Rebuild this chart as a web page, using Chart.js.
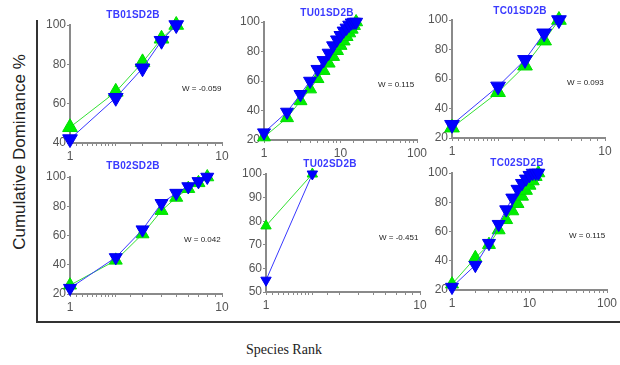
<!DOCTYPE html>
<html>
<head>
<meta charset="utf-8">
<script src="https://cdn.jsdelivr.net/npm/chart.js@4.4.1/dist/chart.umd.min.js"></script>
<style>
  body { margin: 0; background: #fff; width: 620px; height: 365px; overflow: hidden; position: relative; font-family: "Liberation Sans", Arial, sans-serif; }
  canvas { position: absolute; }
  .frame-l { position: absolute; left: 36px; top: 20px; width: 2px; height: 303px; background: #333; }
  .frame-b { position: absolute; left: 36px; top: 321px; width: 584px; height: 2px; background: #333; }
  .ttl { position: absolute; color: #3a3aff; font-weight: bold; font-size: 10px; letter-spacing: 0.3px; transform: translate(-50%, -50%); white-space: nowrap; }
  .w { position: absolute; font-size: 8px; color: #222; transform: translateY(-50%); white-space: nowrap; }
  #ytitle { position: absolute; left: 20px; top: 152px; font-size: 17px; color: #222; transform: translate(-50%, -50%) rotate(-90deg); white-space: nowrap; }
  #xtitle { position: absolute; left: 284px; top: 350px; font-family: "Liberation Serif", "Times New Roman", serif; font-size: 14px; color: #222; transform: translate(-50%, -50%); white-space: nowrap; }
</style>
</head>
<body>
<div class="frame-l"></div>
<div class="frame-b"></div>
<div id="ytitle">Cumulative Dominance %</div>
<div id="xtitle">Species Rank</div>
<script>
// panel names and W statistic
const panelNames = ['TB01SD2B', 'TU01SD2B', 'TC01SD2B', 'TB02SD2B', 'TU02SD2B', 'TC02SD2B'];
const wLabels = ['W = -0.059', 'W = 0.115', 'W = 0.093', 'W = 0.042', 'W = -0.451', 'W = 0.115'];

// species ranks
const ranksTB01 = [1, 2, 3, 4, 5];
const ranksTU01 = [1, 2, 3, 4, 5, 6, 7, 8, 9, 10, 11, 12, 13, 14, 15, 16];
const ranksTC01 = [1, 2, 3, 4, 5];
const ranksTB02 = [1, 2, 3, 4, 5, 6, 7, 8];
const ranksTU02 = [1, 2];
const ranksTC02 = [1, 2, 3, 4, 5, 6, 7, 8, 9, 10, 11, 12, 13];

// cumulative dominance %, green (up triangles)
const greenTB01 = [48, 66, 81, 93, 100];
const greenTU01 = [22, 35, 46.5, 54.5, 61.5, 67, 72, 76.5, 80.5, 84, 87, 90, 92.5, 95, 97.5, 100];
const greenTC01 = [27, 51, 69, 86, 100];
const greenTB02 = [26, 43, 61, 77, 86, 92, 96, 100];
const greenTU02 = [78, 100];
const greenTC02 = [24, 42, 51, 61, 68, 74, 79, 84, 88, 91.5, 94.5, 97.5, 100];

// cumulative dominance %, blue (down triangles)
const blueTB01 = [42, 63, 78, 92, 100];
const blueTU01 = [25, 39, 51, 60, 68, 74, 79, 84, 88, 91, 94, 96, 98, 99.5, 100, 100];
const blueTC01 = [29, 55, 73, 91, 100];
const blueTB02 = [24, 45, 64, 82, 89, 93.5, 97, 100];
const blueTU02 = [55, 100];
const blueTC02 = [22, 37, 52, 65, 75, 83, 89, 93, 96, 98.5, 100, 100, 100];

// axis ranges
const yMins = [40, 20, 20, 20, 50, 20];
const yMaxs = [100, 100, 100, 100, 100, 100];
const ySteps = [20, 20, 20, 20, 10, 20];
const xMaxs = [10, 100, 10, 10, 10, 100];

const ranks = [ranksTB01, ranksTU01, ranksTC01, ranksTB02, ranksTU02, ranksTC02];
const greens = [greenTB01, greenTU01, greenTC01, greenTB02, greenTU02, greenTC02];
const blues = [blueTB01, blueTU01, blueTC01, blueTB02, blueTU02, blueTC02];

// plot area of each panel on the page
const boxes = [
  { l: 70, t: 25, r: 222, b: 143 },
  { l: 264, t: 22, r: 417, b: 140 },
  { l: 452, t: 20, r: 605, b: 138 },
  { l: 70, t: 177, r: 222, b: 294 },
  { l: 266, t: 174, r: 420, b: 292 },
  { l: 452, t: 173, r: 607, b: 290 }
];
const markerSize = [8.5, 7.5, 8.5, 7.5, 6, 7.5];
const titlePos = [[133, 14], [327, 12], [520, 10], [133, 165], [330, 163], [517, 162]];
const wPos = [[182, 88], [378, 84], [567, 82], [184, 239], [379, 237], [569, 235]];

const PADL = 45, PADT = 12, PADR = 14, PADB = 22;

function pts(xs, ys) {
  return xs.map((x, i) => ({ x: x, y: ys[i] }));
}

panelNames.forEach((name, i) => {
  const b = boxes[i];
  const cv = document.createElement('canvas');
  const w = b.r - b.l + PADL + PADR, h = b.b - b.t + PADT + PADB;
  cv.width = w; cv.height = h;
  cv.style.left = (b.l - PADL) + 'px';
  cv.style.top = (b.t - PADT) + 'px';
  cv.style.width = w + 'px';
  cv.style.height = h + 'px';
  document.body.appendChild(cv);

  const t = document.createElement('div');
  t.className = 'ttl';
  t.textContent = name;
  t.style.left = titlePos[i][0] + 'px';
  t.style.top = titlePos[i][1] + 'px';
  document.body.appendChild(t);

  const wl = document.createElement('div');
  wl.className = 'w';
  wl.textContent = wLabels[i];
  wl.style.left = wPos[i][0] + 'px';
  wl.style.top = wPos[i][1] + 'px';
  document.body.appendChild(wl);

  new Chart(cv.getContext('2d'), {
    type: 'scatter',
    data: {
      datasets: [{
        data: pts(ranks[i], blues[i]),
        showLine: true,
        borderColor: '#3838ff',
        borderWidth: 1,
        pointStyle: 'triangle',
        rotation: 180,
        pointRadius: markerSize[i],
        pointBackgroundColor: '#0000ff',
        pointBorderColor: '#0000ee',
        pointBorderWidth: 1,
        clip: false
      }, {
        data: pts(ranks[i], greens[i]),
        showLine: true,
        borderColor: '#33e033',
        borderWidth: 1,
        pointStyle: 'triangle',
        pointRadius: markerSize[i],
        pointBackgroundColor: '#00ee00',
        pointBorderColor: '#00dd00',
        pointBorderWidth: 1,
        clip: false
      }]
    },
    options: {
      responsive: false,
      animation: false,
      layout: { padding: { left: 0, top: PADT, right: PADR, bottom: 0 } },
      plugins: { legend: { display: false }, tooltip: { enabled: false } },
      scales: {
        x: {
          type: 'logarithmic',
          min: 1,
          max: xMaxs[i],
          afterFit: s => { s.height = PADB; },
          border: { color: '#8a8a8a', width: 2 },
          grid: { drawOnChartArea: false, color: '#8a8a8a', tickLength: 3 },
          ticks: {
            autoSkip: false,
            maxRotation: 0,
            padding: 3,
            color: '#555',
            font: { family: 'Liberation Sans', size: 12 },
            callback: v => (Math.log10(v) % 1 === 0 ? String(v) : '')
          }
        },
        y: {
          min: yMins[i],
          max: yMaxs[i],
          afterFit: s => { s.width = PADL; },
          border: { color: '#8a8a8a', width: 2 },
          grid: { drawOnChartArea: false, color: '#8a8a8a', tickLength: 3 },
          ticks: {
            stepSize: ySteps[i],
            padding: 1,
            color: '#555',
            font: { family: 'Liberation Sans', size: 12 }
          }
        }
      }
    }
  });
});
</script>
</body>
</html>
